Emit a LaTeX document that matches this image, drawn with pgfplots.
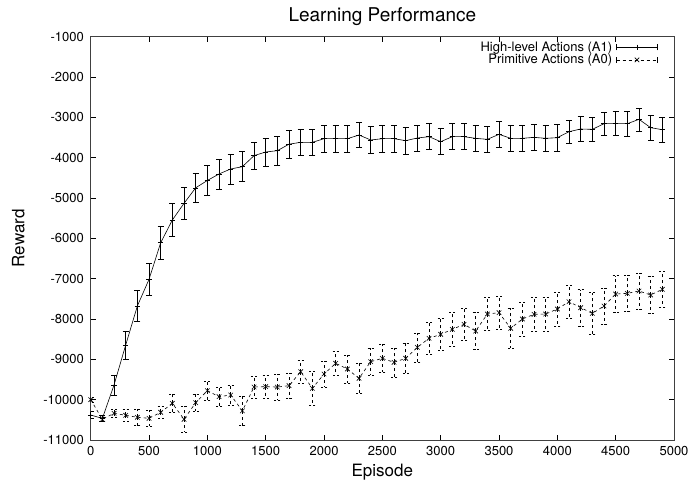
\documentclass[border=0pt]{standalone}
\usepackage{fontspec}
\setmainfont{TeX Gyre Heros}
\usepackage{pgfplots}
\pgfplotsset{compat=1.18}
\usepackage{pgfplotstable}

\pgfplotstableread{
x y e
0 -10380 80
100 -10465 80
200 -9636 250
300 -8645 343
400 -7677 384
500 -7016 390
600 -6108 405
700 -5545 413
800 -5131 397
900 -4747 350
1000 -4565 375
1100 -4404 372
1200 -4280 372
1300 -4223 372
1400 -3950 340
1500 -3859 343
1600 -3826 351
1700 -3665 345
1800 -3619 330
1900 -3619 330
2000 -3529 330
2100 -3529 330
2200 -3529 330
2300 -3438 310
2400 -3561 330
2500 -3529 330
2600 -3529 330
2700 -3578 330
2800 -3512 320
2900 -3479 320
3000 -3603 320
3100 -3479 320
3200 -3479 320
3300 -3520 320
3400 -3545 320
3500 -3421 318
3600 -3520 322
3700 -3520 322
3800 -3496 320
3900 -3520 322
4000 -3504 326
4100 -3355 290
4200 -3289 310
4300 -3297 300
4400 -3157 281
4500 -3157 300
4600 -3157 302
4700 -3049 285
4800 -3256 310
4900 -3306 310
}\highlevel

\pgfplotstableread{
x y e
0 -10000 60
100 -10487 60
200 -10338 100
300 -10388 140
400 -10437 207
500 -10462 200
600 -10313 145
700 -10090 227
800 -10487 322
900 -10075 207
1000 -9777 227
1100 -9926 240
1200 -9884 250
1300 -10277 364
1400 -9686 277
1500 -9678 290
1600 -9687 322
1700 -9653 318
1800 -9306 281
1900 -9719 413
2000 -9364 318
2100 -9099 289
2200 -9240 343
2300 -9471 372
2400 -9058 330
2500 -8975 343
2600 -9074 360
2700 -8975 372
2800 -8702 360
2900 -8479 388
3000 -8380 400
3100 -8256 421
3200 -8132 392
3300 -8298 463
3400 -7876 413
3500 -7843 410
3600 -8231 496
3700 -8000 420
3800 -7884 430
3900 -7876 420
4000 -7752 420
4100 -7571 405
4200 -7719 450
4300 -7860 512
4400 -7678 450
4500 -7380 454
4600 -7364 450
4700 -7306 450
4800 -7405 460
4900 -7264 442
}\primitive

\begin{document}
\begin{tikzpicture}
\begin{axis}[
  scale only axis,
  width=583.3pt, height=403.3pt,
  xmin=0, xmax=5000, ymin=-11000, ymax=-1000,
  xtick={0,500,...,5000},
  ytick={-11000,-10000,...,-1000},
  scaled ticks=false,
  /pgf/number format/1000 sep={},
  /pgf/number format/assume math mode=true,
  tick align=inside,
  major tick length=5pt,
  tick style={black, line width=0.6pt},
  axis line style={line width=0.8pt, black!75},
  ticklabel style={font=\fontsize{13}{15}\selectfont},
  xticklabel style={yshift=-2.5pt},
  yticklabel style={xshift=-3.3pt},
  title={Learning Performance},
  title style={font=\fontsize{19}{21}\selectfont, at={(axis description cs:0.5,1.0347)}, anchor=center, yshift=0pt},
  xlabel={Episode},
  xlabel style={font=\fontsize{17}{19}\selectfont, at={(axis description cs:0.5,-0.0805)}, anchor=center, yshift=0pt},
  ylabel={Reward},
  ylabel style={font=\fontsize{17}{19}\selectfont, at={(axis description cs:-0.1241,0.5)}, anchor=center},
  legend style={at={(rel axis cs:0.9726,0.9876)}, anchor=north east, draw=none, fill=none,
    font=\fontsize{13}{13}\selectfont, inner sep=0pt, row sep=1.5pt, column sep=4pt,
    nodes={inner sep=0pt}},
  legend cell align=right,
  legend plot pos=right,
  legend image code/.code={
    \draw[#1, mark=none] (0pt,0pt) -- (41pt,0pt);
    \draw[#1, mark=none, solid] (0pt,-3pt) -- (0pt,3pt) (41pt,-3pt) -- (41pt,3pt);
    \draw[#1] plot coordinates {(20.5pt,0pt)};
  },
]
\coordinate (LL) at (rel axis cs:0,0);
\coordinate (UR) at (rel axis cs:1,1);
\addplot[black, line width=0.6pt, mark=+, mark size=2.8pt, mark options={solid},
  error bars/.cd, y dir=both, y explicit,
  error bar style={black, line width=0.6pt, solid},
  error mark options={rotate=90, mark size=3pt, black, line width=0.6pt}]
  table[x=x, y=y, y error=e] {\highlevel};
\addlegendentry{High-level Actions (A1)}
\addplot[black, line width=0.6pt, dash pattern=on 3pt off 3pt, mark=x, mark size=3.2pt, mark options={solid},
  error bars/.cd, y dir=both, y explicit,
  error bar style={black, line width=0.6pt, dash pattern=on 3pt off 3pt},
  error mark options={rotate=90, mark size=3pt, black, line width=0.6pt, dash pattern=on 2pt off 2pt}]
  table[x=x, y=y, y error=e] {\primitive};
\addlegendentry{Primitive Actions (A0)}
\end{axis}
\pgfresetboundingbox
\path[use as bounding box] ([shift={(-90.7pt,-44pt)}]LL) rectangle ([shift={(15pt,36.7pt)}]UR);
\end{tikzpicture}
\end{document}
